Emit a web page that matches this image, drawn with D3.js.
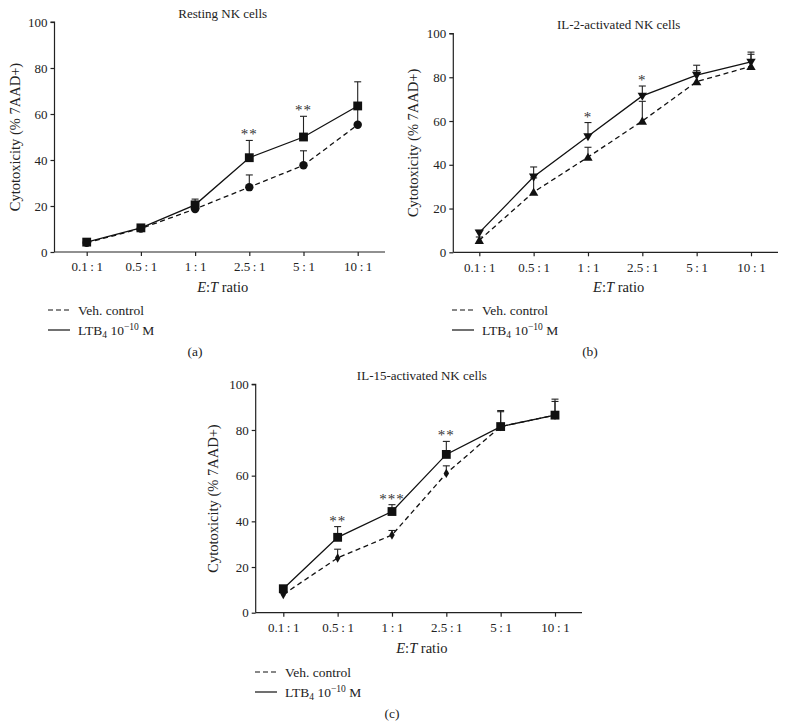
<!DOCTYPE html>
<html><head><meta charset="utf-8">
<script src="https://cdn.jsdelivr.net/npm/d3@7"></script>
<style>
body{margin:0;background:#fff;}
svg text{font-family:"Liberation Serif","Times New Roman","DejaVu Serif",serif;fill:#222;}
</style></head>
<body><svg id="chart" width="786" height="728"></svg>
<script>
// ---- data ----
const categories = ["0.1\u2009:\u20091","0.5\u2009:\u20091","1\u2009:\u20091","2.5\u2009:\u20091","5\u2009:\u20091","10\u2009:\u20091"];
const yTicks = [0,20,40,60,80,100];

const restingVeh = [4.0, 10.2, 18.7, 28.2, 37.7, 55.3];
const restingVehErr = [0.5, 0.6, 1.0, 5.3, 6.3, 7.0];
const restingLtb = [4.3, 10.5, 20.5, 41.0, 50.0, 63.5];
const restingLtbErr = [0.8, 1.2, 2.5, 7.5, 9.0, 10.5];
const restingStars = ["", "", "", "**", "**", ""];

const il2Veh = [5.5, 27.5, 43.5, 60.0, 78.0, 85.0];
const il2VehErr = [1.5, 6.5, 4.5, 9.0, 5.0, 5.5];
const il2Ltb = [9.0, 34.5, 53.0, 71.5, 81.0, 87.0];
const il2LtbErr = [1.0, 4.5, 6.3, 4.5, 4.5, 4.5];
const il2Stars = ["", "", "*", "*", "", ""];

const il15Veh = [8.0, 24.0, 34.0, 61.0, 81.5, 86.5];
const il15VehErr = [0.5, 3.8, 2.0, 3.3, 6.5, 6.0];
const il15Ltb = [10.5, 33.0, 44.3, 69.3, 81.5, 86.5];
const il15LtbErr = [1.0, 4.7, 3.0, 5.7, 7.0, 7.0];
const il15Stars = ["", "**", "***", "**", "", ""];

const titles = ["Resting NK cells", "IL-2-activated NK cells", "IL-15-activated NK cells"];
const panelLabels = ["(a)", "(b)", "(c)"];
const legendLabels = ["Veh. control", "LTB4 10-10 M"];

// ---- drawing ----
const svg = d3.select("#chart");

const panels = [
  {title: titles[0], label: panelLabels[0], veh: restingVeh, vehErr: restingVehErr, ltb: restingLtb, ltbErr: restingLtbErr, stars: restingStars,
   axisX0: 54.5, axisX1: 385, y0: 252, y1: 22, px0: 86.7, px1: 357.7, titleY: 18, ylabX: 17, vehSym: "circle", ltbSym: "square",
   legX: 48, legY: 310, labX: 195, labY: 356},
  {title: titles[1], label: panelLabels[1], veh: il2Veh, vehErr: il2VehErr, ltb: il2Ltb, ltbErr: il2LtbErr, stars: il2Stars,
   axisX0: 453.3, axisX1: 778, y0: 252.3, y1: 33.5, px0: 479.3, px1: 751, titleY: 29, ylabX: 415, vehSym: "up", ltbSym: "down",
   legX: 452, legY: 310, labX: 590, labY: 356},
  {title: titles[2], label: panelLabels[2], veh: il15Veh, vehErr: il15VehErr, ltb: il15Ltb, ltbErr: il15LtbErr, stars: il15Stars,
   axisX0: 255.7, axisX1: 582, y0: 612.7, y1: 384.3, px0: 283.3, px1: 555, titleY: 380, ylabX: 215, vehSym: "diamond", ltbSym: "square",
   legX: 255, legY: 672, labX: 392, labY: 718}
];

function symbolPath(kind){
  if(kind==="circle") return d3.symbol(d3.symbolCircle, 56)();
  if(kind==="square") return d3.symbol(d3.symbolSquare, 78)();
  if(kind==="diamond") return d3.symbol(d3.symbolDiamond, 26)();
  if(kind==="up") return d3.symbol(d3.symbolTriangle, 38)();
  if(kind==="down") return d3.symbol(d3.symbolTriangle, 38)();
}

panels.forEach(p => {
  const g = svg.append("g");
  const x = d3.scalePoint().domain(categories).range([p.px0, p.px1]);
  const y = d3.scaleLinear().domain([0,100]).range([p.y0, p.y1]);

  // y axis
  const ya = g.append("g").attr("transform", `translate(${p.axisX0},0)`)
    .call(d3.axisLeft(y).tickValues(yTicks).tickSize(4).tickPadding(3).tickFormat(d3.format("d")));
  ya.attr("font-family", null);
  ya.select(".domain").attr("d", `M-4,${y(100)}H0V${y(0)}`).attr("stroke", "#222").attr("stroke-width", 1.2);
  ya.selectAll(".tick line").attr("stroke", "#222").attr("stroke-width", 1.2);
  ya.selectAll(".tick text").attr("font-size", 13).attr("fill", "#222");

  // x axis
  const xa = g.append("g").attr("transform", `translate(0,${p.y0})`)
    .call(d3.axisBottom(x).tickSize(4).tickPadding(6));
  xa.attr("font-family", null);
  xa.select(".domain").attr("d", `M${p.axisX0},0H${p.axisX1}`).attr("stroke", "#222").attr("stroke-width", 1.2);
  xa.selectAll(".tick line").attr("stroke", "#222").attr("stroke-width", 1.2);
  xa.selectAll(".tick text").attr("font-size", 13).attr("fill", "#222");

  // title
  const cx = (p.axisX0 + p.axisX1) / 2 + 3;
  g.append("text").attr("x", cx).attr("y", p.titleY).attr("text-anchor", "middle").attr("font-size", 13).text(p.title);

  // y label
  g.append("text").attr("transform", `translate(${p.ylabX},${(p.y0+p.y1)/2}) rotate(-90)`)
    .attr("text-anchor", "middle").attr("dominant-baseline", "middle").attr("font-size", 14.5).text("Cytotoxicity (% 7AAD+)");

  // x label
  const xl = g.append("text").attr("x", cx).attr("y", p.y0 + 40).attr("text-anchor", "middle").attr("font-size", 14.5);
  xl.append("tspan").attr("font-style", "italic").text("E");
  xl.append("tspan").text(":");
  xl.append("tspan").attr("font-style", "italic").text("T");
  xl.append("tspan").text(" ratio");

  const series = [
    {vals: p.veh, err: p.vehErr, dash: "5,3.5", sym: p.vehSym},
    {vals: p.ltb, err: p.ltbErr, dash: null, sym: p.ltbSym}
  ];

  // error bars (upper)
  series.forEach(s => {
    const eg = g.append("g");
    categories.forEach((c, i) => {
      if(!s.err[i]) return;
      const top = s.vals[i] + s.err[i];
      eg.append("line").attr("x1", x(c)).attr("x2", x(c)).attr("y1", y(s.vals[i])).attr("y2", y(top))
        .attr("stroke", "#222").attr("stroke-width", 1.1);
      eg.append("line").attr("x1", x(c)-3.5).attr("x2", x(c)+3.5).attr("y1", y(top)).attr("y2", y(top))
        .attr("stroke", "#222").attr("stroke-width", 1.1);
    });
  });

  // lines
  series.forEach(s => {
    const line = d3.line().x((d,i) => x(categories[i])).y(d => y(d));
    g.append("path").datum(s.vals).attr("d", line).attr("fill", "none").attr("stroke", "#111")
      .attr("stroke-width", 1.3).attr("stroke-dasharray", s.dash);
  });

  // markers
  series.forEach(s => {
    g.append("g").selectAll("path").data(s.vals).join("path")
      .attr("d", symbolPath(s.sym))
      .attr("transform", (d,i) => `translate(${x(categories[i])},${y(d) + (s.sym==="down" ? -0.5 : (s.sym==="up" ? 1 : 0))})${s.sym==="down" ? " rotate(180)" : ""}`)
      .attr("fill", "#111");
  });

  // stars
  categories.forEach((c, i) => {
    if(!p.stars[i]) return;
    const top = p.ltb[i] + p.ltbErr[i];
    g.append("text").attr("x", x(c)).attr("y", y(top) - 1).attr("text-anchor", "middle")
      .attr("font-size", 15).style("fill", "#333").attr("letter-spacing", 1).text(p.stars[i]);
  });

  // legend
  const lg = g.append("g").attr("transform", `translate(${p.legX},${p.legY})`);
  [0,1].forEach(k => {
    const yy = k * 20;
    lg.append("line").attr("x1", 0).attr("x2", 22).attr("y1", yy).attr("y2", yy).attr("stroke", "#111")
      .attr("stroke-width", 1.2).attr("stroke-dasharray", k===0 ? "5,3" : null);
    const t = lg.append("text").attr("x", 30).attr("y", yy + 4.5).attr("font-size", 13.5);
    if(k===0){ t.text(legendLabels[0]); }
    else {
      t.append("tspan").text("LTB");
      t.append("tspan").attr("font-size", 9.5).attr("dy", 3).text("4");
      t.append("tspan").attr("dy", -3).text(" 10");
      t.append("tspan").attr("font-size", 9.5).attr("dy", -5).text("\u221210");
      t.append("tspan").attr("dy", 5).text(" M");
    }
  });

  // panel label
  g.append("text").attr("x", p.labX).attr("y", p.labY).attr("text-anchor", "middle").attr("font-size", 13.5).text(p.label);
});
</script>
</body></html>
